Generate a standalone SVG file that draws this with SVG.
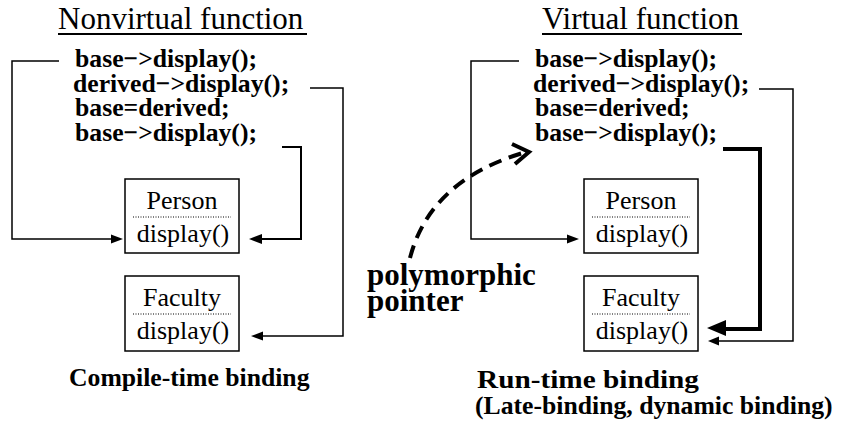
<svg xmlns="http://www.w3.org/2000/svg" width="843" height="430" viewBox="0 0 843 430">
<style>
text{font-family:"Liberation Serif","Times New Roman",serif;fill:#000}
.title{font-size:31px}
.code{font-size:25.7px;font-weight:bold}
.lbl{font-size:25.7px;font-weight:bold}
.big{font-size:31px;font-weight:bold}
.box{fill:#fff;stroke:#000;stroke-width:1.5}
.div{stroke:#000;stroke-width:1;stroke-dasharray:1 1.5}
.bt{font-size:26px;text-anchor:middle}
.ul{stroke:#000;stroke-width:2}
.c{fill:none;stroke:#000;stroke-width:1.5}
.c2{fill:none;stroke:#000;stroke-width:2}
.ck{fill:none;stroke:#000;stroke-width:4}
.ah{fill:#000}
</style>
<rect width="843" height="430" fill="#fff"/>
<g id="title-nonvirtual">
<text class="title" x="58" y="29">Nonvirtual function</text>
<line class="ul" x1="58" y1="34" x2="307" y2="34"/>
</g>
<g id="title-virtual">
<text class="title" x="542" y="29">Virtual function</text>
<line class="ul" x1="542" y1="34" x2="742" y2="34"/>
</g>
<g id="code-left">
<text class="code" x="75" y="67">base−&gt;display();</text>
<text class="code" x="73" y="92">derived−&gt;display();</text>
<text class="code" x="75" y="116">base=derived;</text>
<text class="code" x="75" y="141">base−&gt;display();</text>
</g>
<g id="code-right">
<text class="code" x="535" y="67">base−&gt;display();</text>
<text class="code" x="533" y="92">derived−&gt;display();</text>
<text class="code" x="535" y="116">base=derived;</text>
<text class="code" x="535" y="141">base−&gt;display();</text>
</g>
<g id="person-left">
<rect class="box" x="125" y="179" width="114" height="74"/>
<line class="div" x1="133" y1="217" x2="231" y2="217"/>
<text class="bt" x="182" y="209">Person</text>
<text class="bt" x="183" y="242">display()</text>
</g>
<g id="faculty-left">
<rect class="box" x="125" y="276" width="114" height="75"/>
<line class="div" x1="133" y1="314" x2="231" y2="314"/>
<text class="bt" x="182" y="306">Faculty</text>
<text class="bt" x="183" y="339">display()</text>
</g>
<g id="person-right">
<rect class="box" x="584" y="179" width="114" height="74"/>
<line class="div" x1="592" y1="217" x2="690" y2="217"/>
<text class="bt" x="641" y="209">Person</text>
<text class="bt" x="642" y="242">display()</text>
</g>
<g id="faculty-right">
<rect class="box" x="584" y="276" width="114" height="75"/>
<line class="div" x1="592" y1="314" x2="690" y2="314"/>
<text class="bt" x="641" y="306">Faculty</text>
<text class="bt" x="642" y="339">display()</text>
</g>
<g id="label-compile">
<text class="lbl" x="69" y="386">Compile-time binding</text>
</g>
<g id="label-runtime">
<text class="lbl" x="477" y="388" textLength="222" lengthAdjust="spacingAndGlyphs">Run-time binding</text>
<text class="lbl" x="475" y="414">(Late-binding, dynamic binding)</text>
</g>
<g id="label-polymorphic">
<text class="big" x="367" y="285">polymorphic</text>
<text class="big" x="367" y="311">pointer</text>
</g>
<g id="connectors">
<path class="c" d="M59 61H12V239H112"/>
<path class="ah" d="M123 239L111 234.5V243.5Z"/>
<path class="c" d="M310 88H343V336H260"/>
<path class="ah" d="M251 336L263 331.5V340.5Z"/>
<path class="c2" d="M282 147H301V239H259"/>
<path class="ah" d="M249 239L262 234V244Z"/>
<path class="c" d="M519 61H471V239H568"/>
<path class="ah" d="M579 239L567 234.5V243.5Z"/>
<path class="c" d="M759 89H793V341H716"/>
<path class="ah" d="M708 341L719 336.5V345.5Z"/>
<path class="ck" d="M723 149H760V329H722"/>
<path class="ah" d="M707 328L726 320V336Z"/>
<path fill="none" stroke="#000" stroke-width="4" stroke-dasharray="13 8" d="M410 258Q430 180 526 152"/>
<path fill="none" stroke="#000" stroke-width="4" d="M512 144L529 152L515 164"/>
</g>
</svg>
